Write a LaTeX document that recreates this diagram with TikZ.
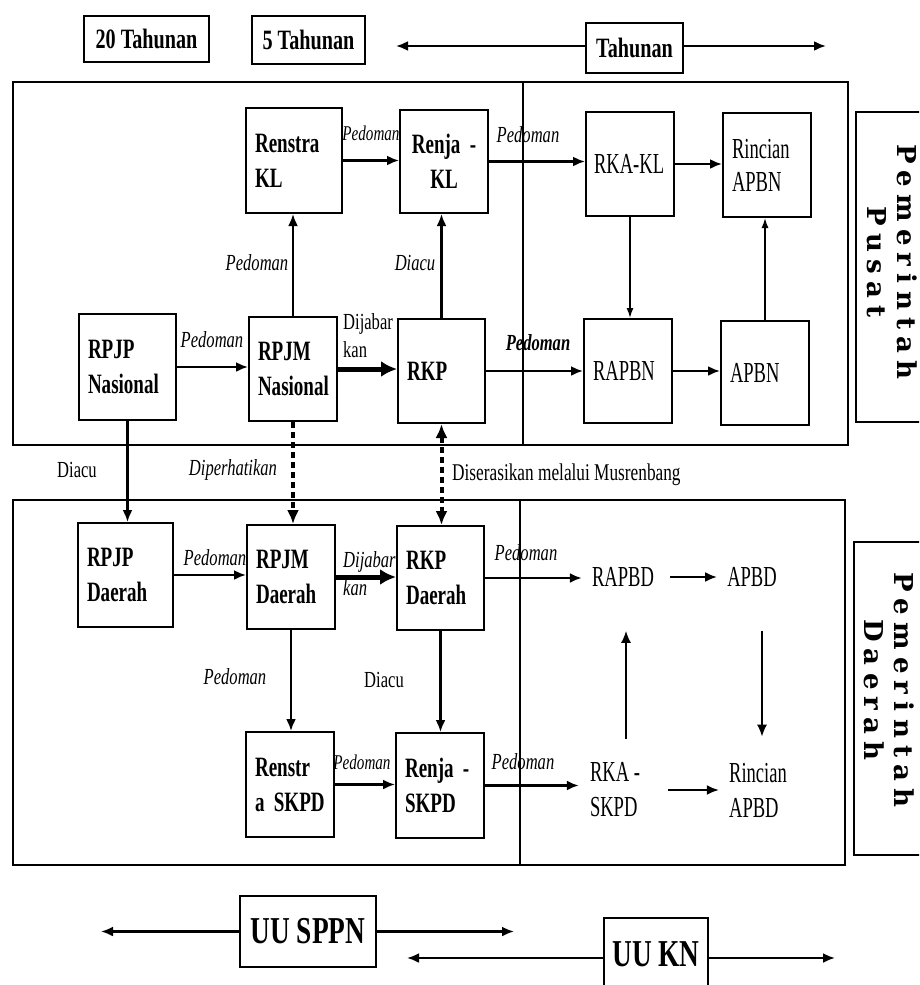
\documentclass[tikz,border=0pt]{standalone}
\usepackage{fontspec}
\setmainfont{Liberation Serif}
\newfontfamily\cond[FakeStretch=0.72]{Liberation Serif}
\newfontfamily\bxf[FakeStretch=0.68]{Liberation Serif}
\newfontfamily\narrowf[FakeStretch=0.64]{Liberation Serif}
\newfontfamily\pemfont[LetterSpace=28]{DejaVu Serif Bold}
\usetikzlibrary{arrows.meta,calc}
\tikzset{
  bx/.style={draw, line width=2pt, inner xsep=9pt, inner ysep=0pt, align=left,
    font=\bxf\bfseries\fontsize{28}{35}\selectfont},
  bxr/.style={bx, font=\narrowf\fontsize{29}{33}\selectfont},
  rg/.style={inner sep=2pt, align=left, font=\narrowf\fontsize{29}{35}\selectfont},
  lab/.style={inner sep=0pt, font=\cond\itshape\fontsize{23}{26}\selectfont},
  labr/.style={inner sep=0pt, align=left, font=\cond\fontsize{23}{28}\selectfont},
  topbox/.style={draw, line width=2.2pt, inner sep=0pt, font=\cond\bfseries\fontsize{28}{30}\selectfont},
  bigbox/.style={draw, line width=2.2pt, inner sep=0pt, font=\cond\bfseries\fontsize{38}{40}\selectfont},
  arr/.style={line width=2.3pt, -{Latex[length=12pt,width=10pt]}},
  thinarr/.style={line width=1.4pt, -{Latex[length=10pt,width=7pt]}},
  fat/.style={line width=5pt, -{Latex[length=16pt,width=16pt]}},
  dots/.style={line width=4pt, dash pattern=on 6pt off 4pt},
  frame/.style={line width=2.2pt},
  pem/.style={align=center, inner sep=0pt, font=\pemfont\fontsize{26}{30}\selectfont},
}
\begin{document}
\begin{tikzpicture}[x=1pt,y=-1pt]
\useasboundingbox (0,0) rectangle (919,985);
\clip (0,0) rectangle (919,985);
\fill[white] (0,0) rectangle (919,985);

% ---------- top row ----------
\node[topbox, minimum width=125pt, minimum height=46pt] (t20) at (146.5,39) {20 Tahunan};
\node[topbox, minimum width=113pt, minimum height=48pt] (t5) at (308.5,40) {5 Tahunan};
\node[topbox, minimum width=97pt, minimum height=50pt] (tah) at (634.5,48) {Tahunan};
\coordinate (tahL) at (396,46);
\coordinate (tahR) at (826,46);
\draw[arr] (tah.west |- tahL) -- (tahL);
\draw[arr] (tah.east |- tahR) -- (tahR);

% ---------- upper frame ----------
\draw[frame] (13,82) rectangle (848,445);
\draw[frame] (523,82) -- (523,445);

\node[bx, text width=78pt, minimum height=105pt] (renstra) at (294,160.5) {Renstra\\KL};
\node[bx, align=center, text width=70pt, minimum height=103pt] (renja) at (444,161.5) {Renja -\\KL};
\node[bxr, text width=72pt, minimum height=104pt, inner xsep=8pt] (rkakl) at (630,164) {\mbox{RKA-KL}};
\node[bxr, text width=70pt, minimum height=104pt] (rincn) at (767,165) {Rincian\\APBN};
\node[bx, text width=79pt, minimum height=106pt] (rpjpn) at (127.5,367) {RPJP\\Nasional};
\node[bx, text width=70pt, minimum height=104pt] (rpjmn) at (293,369) {RPJM\\Nasional};
\node[bx, text width=69pt, minimum height=104pt] (rkp) at (441.5,371) {RKP};
\node[bxr, text width=70pt, minimum height=104pt] (rapbn) at (628,371) {RAPBN};
\node[bxr, text width=70pt, minimum height=104pt] (apbn) at (765,373) {APBN};

\draw[arr] (renstra.east) -- (renstra.east -| renja.west);
\node[lab, font=\cond\itshape\fontsize{21}{24}\selectfont] (lrr) at (371,133) {Pedoman};
\draw[arr] (renja.east) -- (renja.east -| rkakl.west);
\node[lab] (lrk) at (528,135) {Pedoman};
\draw[arr] (rkakl.east) -- (rkakl.east -| rincn.west);
\draw[thinarr] (rkakl.south) -- (rkakl.south |- rapbn.north);
\draw[thinarr] (apbn.north) -- (apbn.north |- rincn.south);
\draw[arr] (rkp.east) -- (rkp.east -| rapbn.west);
\node[lab, font=\cond\bfseries\itshape\fontsize{23}{26}\selectfont] (lkr) at (538,343) {Pedoman};
\draw[arr] (rapbn.east) -- (rapbn.east -| apbn.west);
\draw[arr] (rpjmn.north) -- (rpjmn.north |- renstra.south);
\node[lab] (lms) at (257,263) {Pedoman};
\draw[arr] (rkp.north) -- (rkp.north |- renja.south);
\node[lab] (lkj) at (415,263) {Diacu};
\draw[arr] (rpjpn.east) -- (rpjpn.east -| rpjmn.west);
\node[lab] (lpm) at (212,340) {Pedoman};
\draw[fat] (rpjmn.east) -- (rpjmn.east -| rkp.west);
\node[labr, anchor=north west] (ldj) at (343,313) {Dijabar\\kan};

% ---------- middle ----------
\node[labr] (ldiacu) at (77,470) {Diacu};
\node[lab] (ldiper) at (233,470) {Diperhatikan};
\node[labr, anchor=west, font=\cond\fontsize{24}{28}\selectfont] (lser) at (452,475) {Diserasikan melalui Musrenbang};

% ---------- lower frame ----------
\draw[frame] (13,500) rectangle (845,865);
\draw[frame] (520,500) -- (520,865);

\node[bx, text width=77pt, minimum height=104pt] (rpjpd) at (125.5,575) {RPJP\\Daerah};
\node[bx, text width=70pt, minimum height=104pt] (rpjmd) at (291,577) {RPJM\\Daerah};
\node[bx, text width=69pt, minimum height=104pt] (rkpd) at (440.5,578) {RKP\\Daerah};
\node[bx, text width=70pt, minimum height=105pt] (renstrad) at (290,784.5) {Renstr\\a SKPD};
\node[bx, text width=70pt, minimum height=105pt] (renjad) at (440,785.5) {Renja -\\SKPD};

\node[rg] (rapbd) at (623,577) {RAPBD};
\node[rg] (apbd) at (752,577) {APBD};
\node[rg] (rkas) at (615,790) {RKA -\\SKPD};
\node[rg] (rincd) at (758,790) {Rincian\\APBD};

% middle connectors
\draw[arr] (rpjpn.south) -- (rpjpn.south |- rpjpd.north);
\draw[dots, -{Latex[length=14pt,width=12pt]}] (rpjmn.south) -- (rpjmn.south |- rpjmd.north);
\draw[dots, {Latex[length=14pt,width=12pt]}-{Latex[length=14pt,width=12pt]}] (rkp.south) -- (rkp.south |- rkpd.north);

% lower connectors
\draw[arr] (rpjpd.east) -- (rpjpd.east -| rpjmd.west);
\node[lab] (lpd) at (215,558) {Pedoman};
\draw[fat] (rpjmd.east) -- (rpjmd.east -| rkpd.west);
\node[labr, anchor=north west, font=\cond\itshape\fontsize{23}{28}\selectfont] (ldjd) at (343,551) {Dijabar\\kan};
\draw[arr] (rpjmd.south) -- (rpjmd.south |- renstrad.north);
\node[lab] (lmsd) at (235,677) {Pedoman};
\draw[arr] (rkpd.south) -- (rkpd.south |- renjad.north);
\node[labr] (lkjd) at (384,680) {Diacu};
\draw[arr] (renstrad.east) -- (renstrad.east -| renjad.west);
\node[lab, font=\cond\itshape\fontsize{21}{24}\selectfont] (lrrd) at (362,762) {Pedoman};
\draw[arr, shorten >=9pt] (renjad.east) -- (renjad.east -| rkas.west);
\node[lab] (lrkd) at (523,762) {Pedoman};
\draw[arr, shorten >=8pt] (rkpd.east) -- (rkpd.east -| rapbd.west);
\node[lab] (lkrd) at (526,553) {Pedoman};
\draw[arr, shorten <=14pt, shorten >=8pt] (rapbd.east) -- (apbd.west);
\draw[arr, shorten <=26pt, shorten >=8pt] (rkas.east) -- (rkas.east -| rincd.west);
\draw[arr, line width=1.7pt, shorten <=22pt, shorten >=42pt] ([xshift=11pt]rkas.north) -- ([xshift=11pt]rkas.north |- rapbd.south);
\draw[arr, line width=1.7pt, shorten <=42pt, shorten >=24pt] ([xshift=10pt]apbd.south) -- ([xshift=10pt]apbd.south |- rincd.north);

% ---------- side labels ----------
\node[draw, line width=2pt, minimum width=74pt, minimum height=310pt] (pusatbox) at (893,267) {};
\node[pem, rotate=-90] (pusatt) at (892,262) {Pemerintah\\Pusat};
\node[draw, line width=2pt, minimum width=76pt, minimum height=313pt] (daerahbox) at (892,698.5) {};
\node[pem, rotate=-90] (daeraht) at (889.5,690) {Pemerintah\\Daerah};

% ---------- bottom ----------
\node[bigbox, minimum width=136pt, minimum height=71pt] (sppn) at (308,931.5) {UU SPPN};
\coordinate (sppnL) at (101,931.5);
\coordinate (sppnR) at (514,931.5);
\draw[arr] (sppn.west) -- (sppnL);
\draw[arr] (sppn.east) -- (sppnR);
\node[bigbox, minimum width=104pt, minimum height=72pt] (uukn) at (656,954) {UU KN};
\coordinate (knL) at (407,958);
\coordinate (knR) at (835,958);
\draw[arr] (uukn.west |- knL) -- (knL);
\draw[arr] (uukn.east |- knR) -- (knR);
\end{tikzpicture}
\end{document}
